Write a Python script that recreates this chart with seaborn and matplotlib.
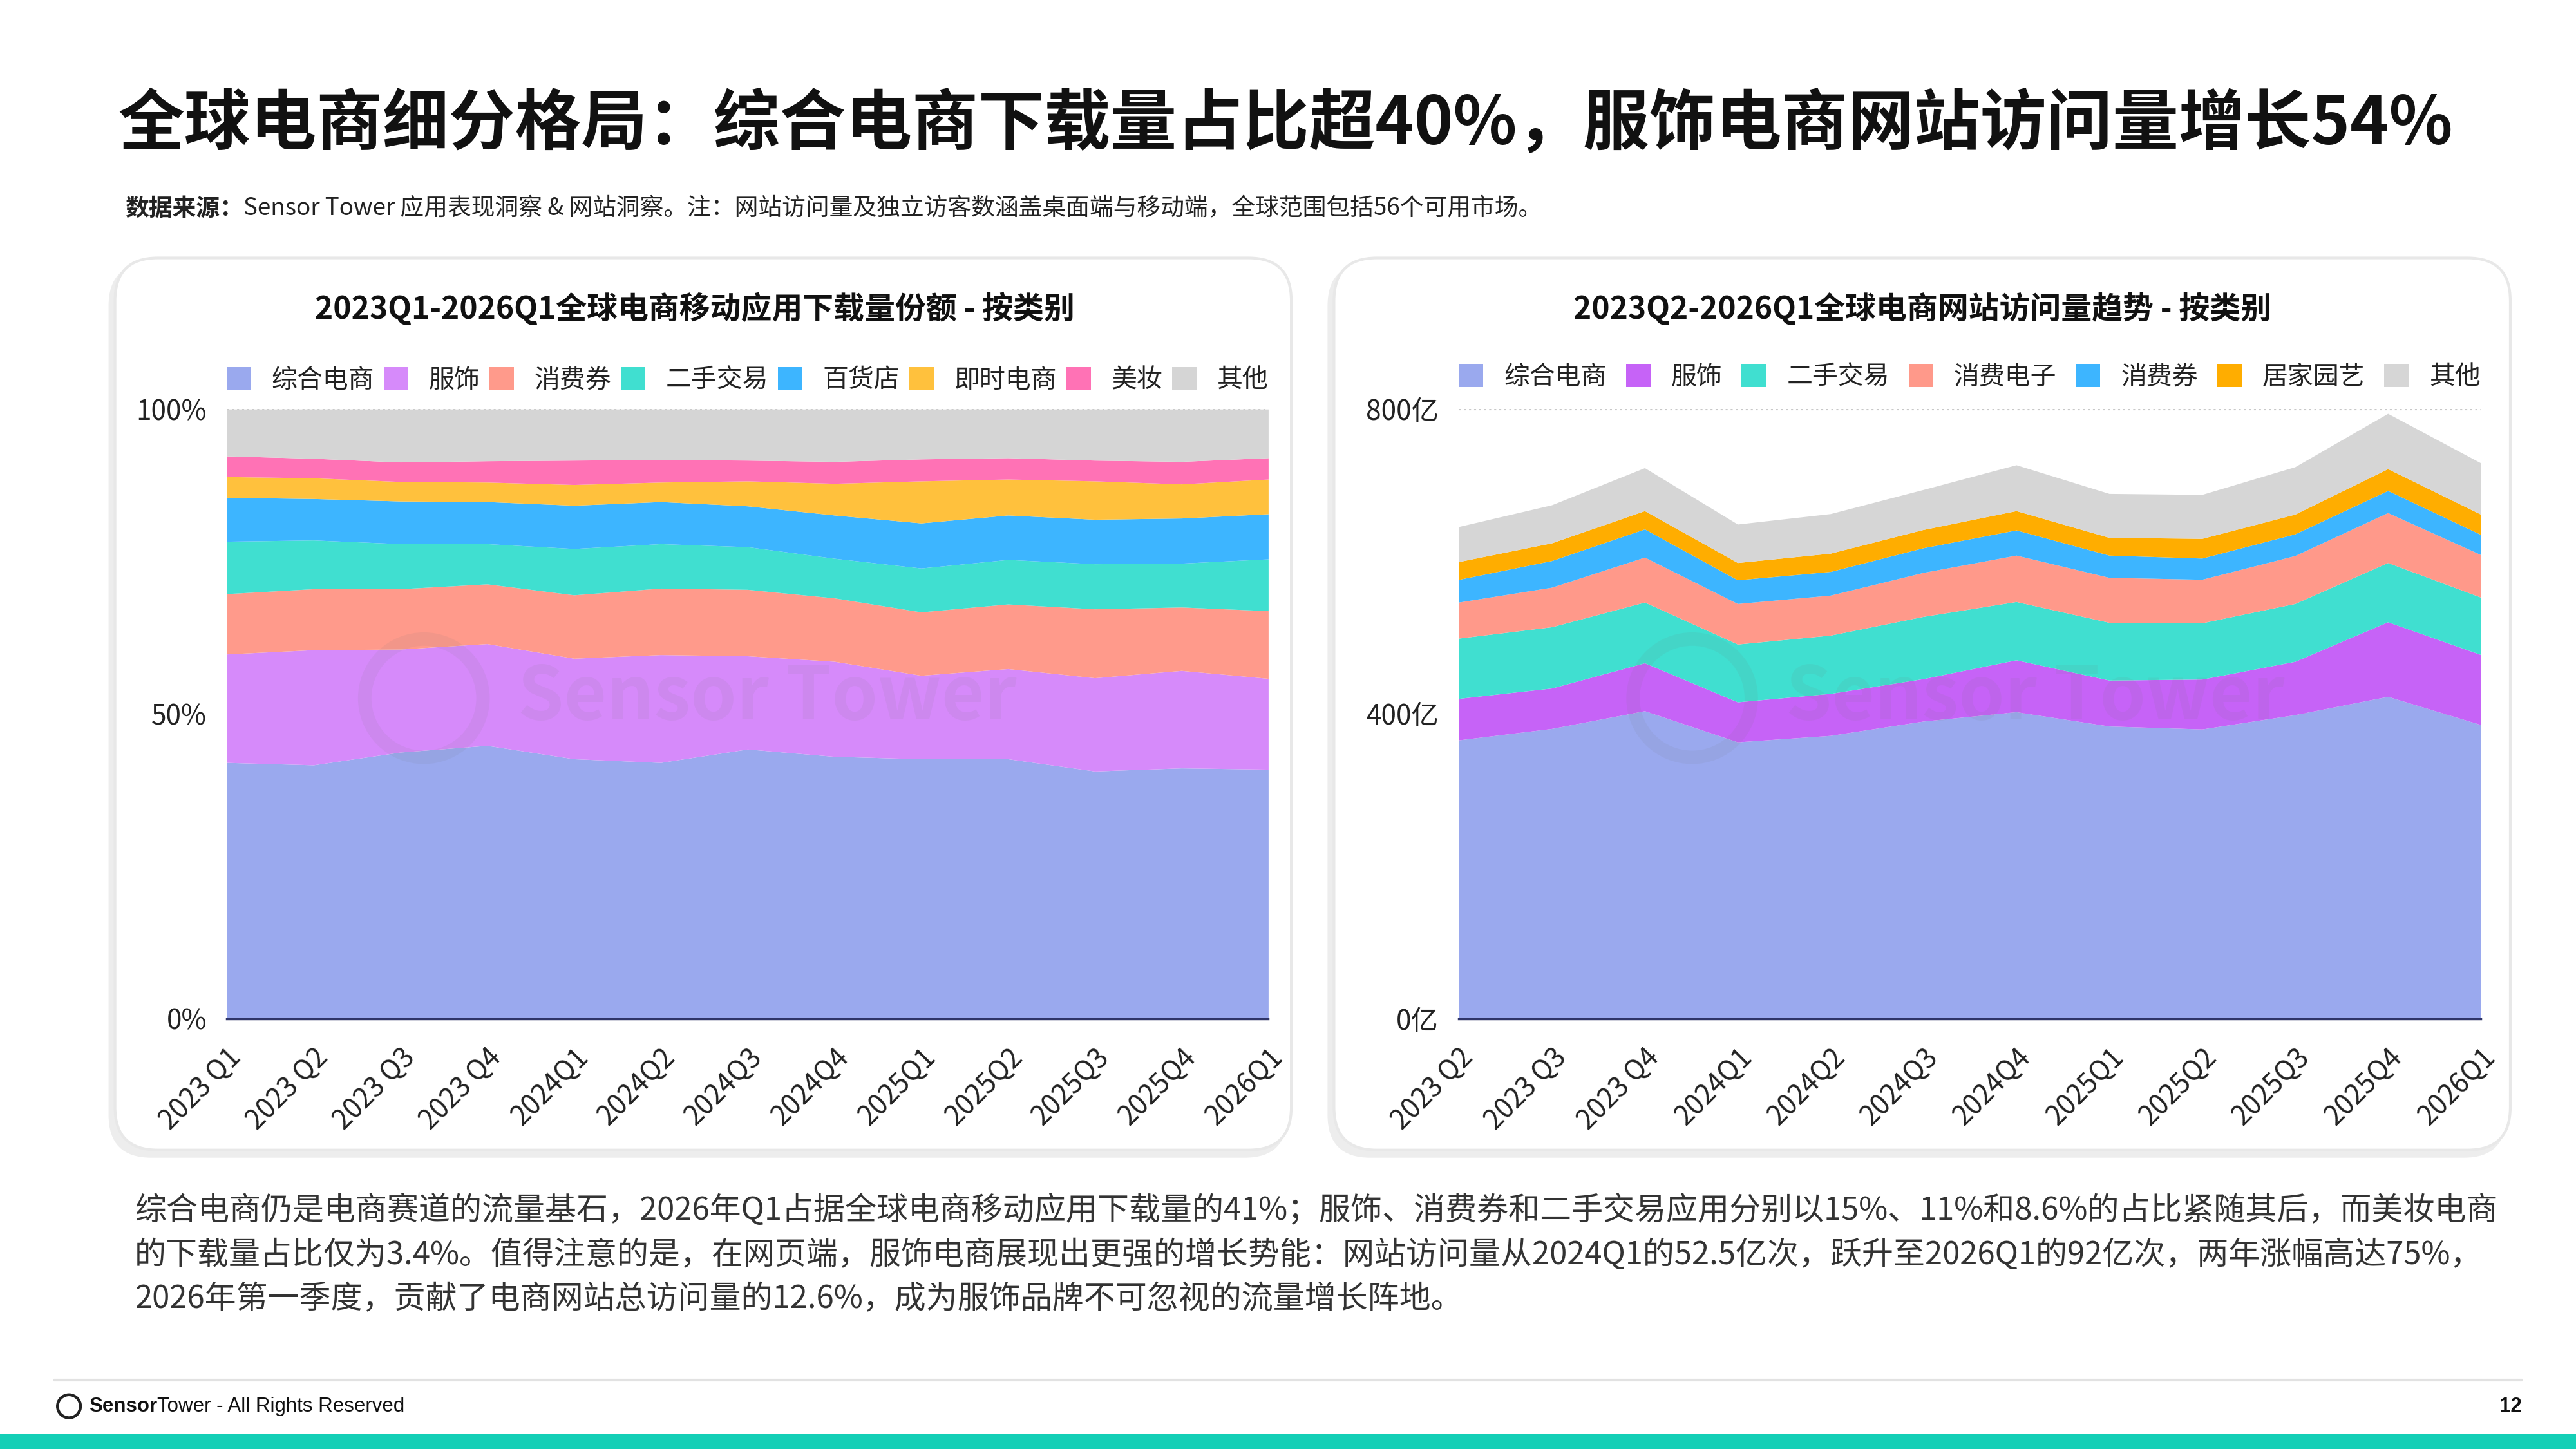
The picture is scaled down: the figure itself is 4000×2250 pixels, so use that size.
import numpy as np
import pandas as pd
import matplotlib
matplotlib.use("Agg")
import matplotlib.pyplot as plt
import seaborn as sns
from matplotlib.patches import FancyBboxPatch, Patch, Circle

# ---------------- data ----------------
left_quarters = ["2023 Q1", "2023 Q2", "2023 Q3", "2023 Q4", "2024Q1", "2024Q2", "2024Q3",
                 "2024Q4", "2025Q1", "2025Q2", "2025Q3", "2025Q4", "2026Q1"]
left_categories = ["综合电商", "服饰", "消费券", "二手交易", "百货店", "即时电商", "美妆", "其他"]
left_general = [42.0, 41.6, 43.7, 44.8, 42.6, 42.0, 44.2, 43.0, 42.6, 42.6, 40.6, 41.1, 40.9]
left_apparel = [17.8, 18.9, 16.9, 16.7, 16.5, 17.7, 15.3, 15.6, 13.7, 14.8, 15.3, 16.0, 14.9]
left_coupon = [9.9, 10.0, 9.9, 9.8, 10.4, 10.9, 10.9, 10.4, 10.4, 10.6, 11.3, 10.4, 11.1]
left_secondhand = [8.6, 8.0, 7.4, 6.6, 7.6, 7.3, 7.0, 6.5, 7.2, 7.3, 7.4, 7.2, 8.5]
left_dept = [7.2, 6.8, 7.0, 6.9, 7.1, 6.9, 6.7, 7.1, 7.4, 7.3, 7.3, 7.4, 7.4]
left_instant = [3.4, 3.4, 3.2, 3.2, 3.4, 3.2, 4.1, 5.2, 6.9, 5.9, 6.3, 5.6, 5.7]
left_beauty = [3.4, 3.2, 3.2, 3.5, 4.0, 3.7, 3.4, 3.6, 3.6, 3.5, 3.4, 3.7, 3.5]
left_other = [7.7, 8.1, 8.7, 8.5, 8.4, 8.3, 8.4, 8.6, 8.2, 8.0, 8.4, 8.6, 8.0]
left_colors = ["#9AA9EE", "#D68AFA", "#FF9A8B", "#40DFD0", "#3DB5FF", "#FFC13D", "#FF72B5", "#D5D5D5"]

right_quarters = ["2023 Q2", "2023 Q3", "2023 Q4", "2024Q1", "2024Q2", "2024Q3", "2024Q4",
                  "2025Q1", "2025Q2", "2025Q3", "2025Q4", "2026Q1"]
right_categories = ["综合电商", "服饰", "二手交易", "消费电子", "消费券", "居家园艺", "其他"]
right_general = [365.6, 380.6, 403.9, 363.0, 371.5, 390.3, 402.6, 383.8, 379.9, 398.7, 422.7, 385.7]
right_apparel = [54.5, 53.1, 62.9, 52.5, 55.1, 55.7, 68.1, 60.3, 65.5, 70.0, 97.9, 92.0]
right_secondhand = [79.1, 80.4, 79.7, 75.9, 76.5, 81.7, 76.5, 75.8, 73.9, 75.9, 77.8, 75.3]
right_electronics = [47.3, 51.9, 59.0, 53.2, 52.5, 57.7, 60.9, 59.0, 57.1, 62.9, 65.5, 55.8]
right_coupon = [29.8, 35.0, 37.0, 31.1, 31.1, 32.4, 33.1, 29.2, 27.8, 28.5, 29.1, 26.5]
right_home = [23.4, 23.3, 24.0, 22.7, 24.0, 24.0, 25.3, 23.3, 25.9, 25.9, 28.6, 26.6]
right_other = [46.0, 49.9, 56.4, 50.5, 51.9, 52.5, 60.2, 57.7, 57.7, 62.2, 72.6, 67.4]
right_colors = ["#9AA9EE", "#C663F7", "#40DFD0", "#FF998A", "#3DB5FF", "#FFAD00", "#D6D6D6"]

left_df = pd.DataFrame(dict(zip(left_categories,
    [left_general, left_apparel, left_coupon, left_secondhand, left_dept, left_instant, left_beauty, left_other])),
    index=left_quarters)
right_df = pd.DataFrame(dict(zip(right_categories,
    [right_general, right_apparel, right_secondhand, right_electronics, right_coupon, right_home, right_other])),
    index=right_quarters)

# ---------------- style ----------------
sns.set_theme(style="white")
plt.rcParams["font.family"] = ["Noto Sans CJK SC", "DejaVu Sans"]
plt.rcParams["axes.unicode_minus"] = False

W, H = 4000, 2250
DPI = 250
fig = plt.figure(figsize=(W / DPI, H / DPI), dpi=DPI)
fig.patch.set_facecolor("white")

def R(x, y):
    """reduced-image coords (1568x882) to figure fraction"""
    return x / 1568.0, 1 - y / 882.0

TXT = "#222222"

# cards
def card(x0, y0, x1, y1):
    s = W / 1568.0
    px0, px1 = x0 * s, x1 * s
    py0, py1 = H - y1 * s, H - y0 * s
    rad = 26 * s
    shadow = FancyBboxPatch((px0 - 10, py0 - 12), px1 - px0 + 4, py1 - py0 + 4,
                            boxstyle=f"round,pad=0,rounding_size={rad}",
                            transform=None, facecolor="#EDEDED", edgecolor="none", zorder=-2)
    front = FancyBboxPatch((px0, py0), px1 - px0, py1 - py0,
                           boxstyle=f"round,pad=0,rounding_size={rad}",
                           transform=None, facecolor="white", edgecolor="#E8E8E8", lw=1.2, zorder=-1)
    fig.patches.append(shadow)
    fig.patches.append(front)

card(70, 157, 786, 700)
card(812, 157, 1528, 700)

# ---------------- titles ----------------
fig.text(*R(72, 76), "全球电商细分格局：综合电商下载量占比超40%，服饰电商网站访问量增长54%",
         fontsize=29.6, fontweight="bold", color="#111111", va="center", ha="left")

t1 = fig.text(*R(76, 127), "数据来源：", fontsize=10.6, fontweight="bold", color=TXT, va="center", ha="left")
fig.canvas.draw()
bb = t1.get_window_extent()
fig.text(bb.x1 / W, 1 - 127 / 882.0,
         "Sensor Tower 应用表现洞察 & 网站洞察。注：网站访问量及独立访客数涵盖桌面端与移动端，全球范围包括56个可用市场。",
         fontsize=10.6, color=TXT, va="center", ha="left")

fig.text(*R(423, 188), "2023Q1-2026Q1全球电商移动应用下载量份额 - 按类别",
         fontsize=13.8, fontweight="bold", color="#111111", ha="center", va="center")
fig.text(*R(1170, 188), "2023Q2-2026Q1全球电商网站访问量趋势 - 按类别",
         fontsize=13.8, fontweight="bold", color="#111111", ha="center", va="center")

# ---------------- axes ----------------
def make_axes(x0, x1, y0, y1):
    l, t = R(x0, y0)
    r, b = R(x1, y1)
    ax = fig.add_axes([l, b, r - l, t - b])
    ax.set_zorder(1)
    return ax

axL = make_axes(138, 772, 249, 620)
axR = make_axes(888, 1510, 249, 620)

def style_axes(ax, df, colors, ymax, yticks, ylabels, cats, leg_y):
    x = np.arange(len(df.index))
    ax.stackplot(x, [df[c].values for c in cats], colors=colors, linewidth=0, zorder=2)
    ax.set_xlim(0, len(x) - 1)
    ax.set_ylim(0, ymax)
    ax.set_facecolor("none")
    sns.despine(ax=ax, left=True, top=True, right=True, bottom=False)
    ax.spines["bottom"].set_color("#2f3568")
    ax.spines["bottom"].set_linewidth(1.0)
    ax.spines["bottom"].set_zorder(5)
    ax.set_yticks(yticks)
    ax.set_yticklabels(ylabels)
    for yt in yticks[1:]:
        ax.axhline(yt, color="#C8C8C8", lw=0.9, ls=(0, (1, 1.5)), zorder=1)
    ax.set_xticks(x)
    ax.set_xticklabels(df.index, rotation=45, ha="right", rotation_mode="anchor")
    ax.tick_params(axis="x", length=0, pad=11, labelsize=12.2, labelcolor=TXT)
    ax.tick_params(axis="y", length=0, pad=9, labelsize=12.2, labelcolor=TXT)
    ax.grid(False)
    handles = [Patch(facecolor=c, edgecolor="none") for c in colors]
    ax.legend(handles, cats, ncol=len(cats), loc="lower left", bbox_to_anchor=(0, leg_y, 1, 0.06),
              mode="expand", frameon=False, fontsize=11.5, handlelength=0.95, handleheight=1.0,
              handletextpad=0.8, columnspacing=1.0, borderaxespad=0, borderpad=0, labelcolor=TXT)

style_axes(axL, left_df, left_colors, 100, [0, 50, 100], ["0%", "50%", "100%"], left_categories, 1.026)
style_axes(axR, right_df, right_colors, 800, [0, 400, 800], ["0亿", "400亿", "800亿"], right_categories, 1.031)

# watermarks
for cx, tx in [(258, 315), (1030, 1087)]:
    fx, fy = R(cx, 425)
    fig.patches.append(Circle((fx * W, fy * H), 36 * W / 1568, transform=None, fill=False,
                              edgecolor="#777777", lw=6, alpha=0.09, zorder=3))
    fig.text(*R(tx, 425), "Sensor Tower", fontsize=33, fontweight="bold", color="#777777",
             alpha=0.09, ha="left", va="center", zorder=3)

# ---------------- body text ----------------
body = [
    "综合电商仍是电商赛道的流量基石，2026年Q1占据全球电商移动应用下载量的41%；服饰、消费券和二手交易应用分别以15%、11%和8.6%的占比紧随其后，而美妆电商",
    "的下载量占比仅为3.4%。值得注意的是，在网页端，服饰电商展现出更强的增长势能：网站访问量从2024Q1的52.5亿次，跃升至2026Q1的92亿次，两年涨幅高达75%，",
    "2026年第一季度，贡献了电商网站总访问量的12.6%，成为服饰品牌不可忽视的流量增长阵地。",
]
for i, line in enumerate(body):
    fig.text(*R(82, 737 + 27 * i), line, fontsize=14.1, color="#333333", ha="left", va="center")

# ---------------- footer ----------------
fig.add_artist(plt.Line2D([33 / 1568, 1535 / 1568], [1 - 840 / 882] * 2, color="#E2E2E2", lw=1.2,
                          transform=fig.transFigure))
lx, ly = R(42, 856)
fig.patches.append(Circle((lx * W, ly * H), 7 * W / 1568, transform=None, fill=False,
                          edgecolor="#222222", lw=1.3))
ft = fig.text(*R(54, 856), "Sensor", fontsize=9, fontweight="bold", color="#111111",
              ha="left", va="center", family=["Liberation Sans", "DejaVu Sans"])
fig.canvas.draw()
bb = ft.get_window_extent()
fig.text(bb.x1 / W, 1 - 856 / 882, "Tower - All Rights Reserved", fontsize=9, color="#111111",
         ha="left", va="center", family=["Liberation Sans", "DejaVu Sans"])
fig.text(*R(1535, 856), "12", fontsize=9, fontweight="bold", color="#111111", ha="right", va="center",
         family=["Liberation Sans", "DejaVu Sans"])
fig.patches.append(plt.Rectangle((0, 0), 1, 9 / 882, transform=fig.transFigure,
                                 facecolor="#14CFB6", edgecolor="none"))

fig.savefig("out.png", dpi=DPI, facecolor="white")
